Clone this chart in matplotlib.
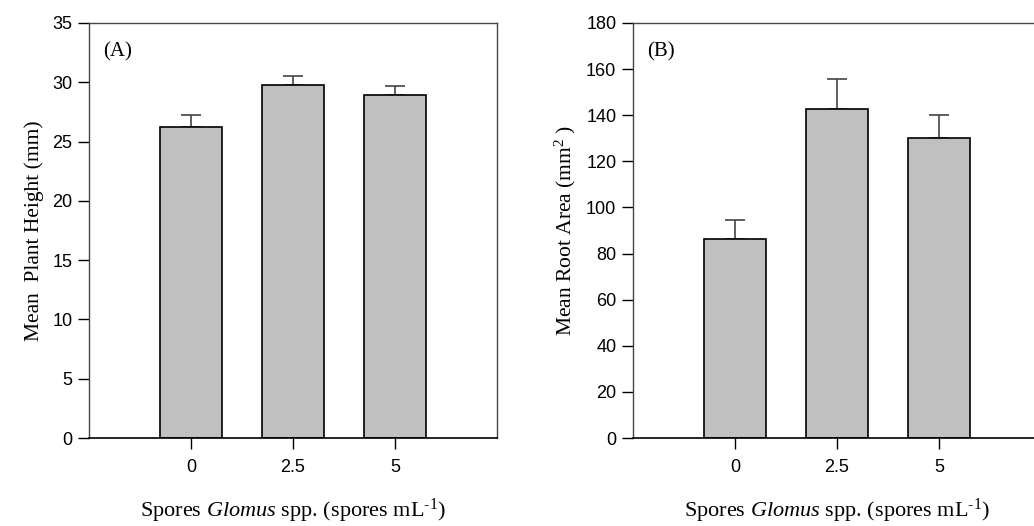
import matplotlib
matplotlib.use("Agg")
import matplotlib.pyplot as plt

# data
doses = ["0", "2.5", "5"]
height_mean = [26.2, 29.8, 28.9]
height_err = [1.0, 0.7, 0.8]
root_mean = [86.2, 142.9, 130.1]
root_err = [8.4, 12.9, 10.1]

plt.rcParams['font.family'] = ['Liberation Sans', 'DejaVu Sans']
plt.rcParams['mathtext.fontset'] = 'custom'
plt.rcParams['mathtext.rm'] = 'Liberation Serif'
plt.rcParams['mathtext.it'] = 'Liberation Serif:italic'

SERIF = ['Liberation Serif', 'DejaVu Serif']
XLABEL = r"Spores $\mathit{Glomus}$ spp. (spores mL$^{\text{-}1}$)"


# Function to draw one bar panel
def bar_panel(fig, rect, means, errs, ymax, ystep, ylabel, tag):
    ax = fig.add_axes(rect)
    pos = list(range(1, len(means) + 1))
    ax.bar(pos, means, width=0.6, color='#c0c0c0', edgecolor='black', linewidth=1.2, zorder=2)
    ax.errorbar(pos, means, yerr=[[0] * len(errs), errs], fmt='none', ecolor='#444444',
                elinewidth=1.2, capsize=7, capthick=1.2, zorder=1)
    ax.set_xlim(0, len(means) + 1)
    ax.set_ylim(0, ymax)
    ax.set_xticks(pos)
    ax.set_xticklabels(doses)
    ax.set_yticks(range(0, ymax + 1, ystep))
    ax.tick_params(direction='out', length=8, width=1, labelsize=13, pad=4)
    ax.tick_params(axis='x', pad=7)
    for side in ['top', 'right', 'left']:
        ax.spines[side].set_color('#444444')
        ax.spines[side].set_linewidth(1)
    ax.spines['bottom'].set_color('black')
    ax.spines['bottom'].set_linewidth(1.2)
    ax.set_ylabel(ylabel, family=SERIF, fontsize=15.5, labelpad=6)
    ax.set_xlabel(XLABEL, family=SERIF, fontsize=16, labelpad=15)
    ax.text(0.035, 0.93, tag, transform=ax.transAxes, family=SERIF, fontsize=15,
            ha='left', va='center')
    return ax


fig = plt.figure(figsize=(10.34, 5.26), dpi=100)
bar_panel(fig, [0.0861, 0.1673, 0.3946, 0.789], height_mean, height_err, 35, 5,
          "Mean  Plant Height (mm)", "(A)")
bar_panel(fig, [0.6122, 0.1673, 0.3946, 0.789], root_mean, root_err, 180, 20,
          r"Mean Root Area (mm$^{2}$ )", "(B)")
fig.savefig("out.png", dpi=100)
